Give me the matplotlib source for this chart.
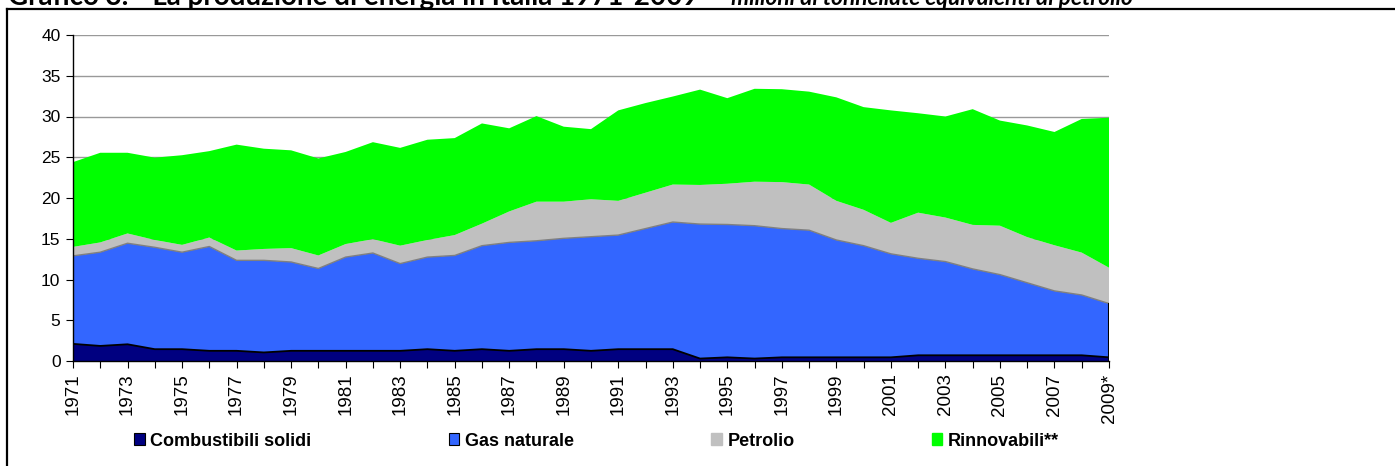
import matplotlib
matplotlib.use("Agg")
import matplotlib.pyplot as plt
from matplotlib.lines import Line2D
from matplotlib.patches import Patch
import numpy as np

plt.rcParams['font.family'] = ['Liberation Sans', 'DejaVu Sans']

years = list(range(1971, 2010))
year_labels = [str(y) if (y - 1971) % 2 == 0 else '' for y in years]
year_labels[-1] = '2009*'

# milioni di tep
solidi = [2.1, 1.85, 2.05, 1.45, 1.45, 1.25, 1.25, 1.05, 1.25, 1.25,
          1.25, 1.25, 1.25, 1.45, 1.25, 1.45, 1.25, 1.45, 1.45, 1.25,
          1.45, 1.45, 1.45, 0.3, 0.45, 0.3, 0.45, 0.45, 0.45, 0.45,
          0.45, 0.7, 0.7, 0.7, 0.7, 0.7, 0.7, 0.7, 0.45]
gas = [10.8, 11.5, 12.4, 12.5, 11.9, 12.8, 11.1, 11.3, 10.9, 10.1,
       11.5, 12.0, 10.7, 11.3, 11.7, 12.7, 13.3, 13.3, 13.6, 14.0,
       14.0, 14.8, 15.6, 16.5, 16.3, 16.3, 15.8, 15.6, 14.4, 13.7,
       12.7, 11.9, 11.5, 10.6, 9.9, 8.9, 7.9, 7.4, 6.6]
petrolio = [1.1, 1.2, 1.2, 0.9, 0.9, 1.1, 1.2, 1.4, 1.7, 1.6,
            1.6, 1.7, 2.2, 2.1, 2.5, 2.7, 3.8, 4.8, 4.5, 4.6,
            4.2, 4.4, 4.6, 4.8, 5.0, 5.4, 5.7, 5.6, 4.8, 4.4,
            3.8, 5.6, 5.4, 5.4, 6.0, 5.6, 5.6, 5.2, 4.4]
rinnovabili = [10.4, 11.0, 9.9, 10.1, 11.0, 10.6, 13.0, 12.3, 12.0, 11.9,
               11.3, 11.9, 12.0, 12.3, 11.9, 12.3, 10.2, 10.5, 9.2, 8.6,
               11.1, 11.0, 10.8, 11.7, 10.5, 11.4, 11.4, 11.4, 12.7, 12.6,
               13.8, 12.2, 12.4, 14.2, 12.9, 13.7, 13.9, 16.4, 18.4]

names = ['Combustibili solidi', 'Gas naturale', 'Petrolio', 'Rinnovabili**']
colors = ['#000080', '#3366FF', '#C0C0C0', '#00FF00']

fig = plt.figure(figsize=(13.95, 4.66), dpi=100)
ax = fig.add_axes([73 / 1395, 1 - 361 / 466, (1109 - 73) / 1395, 326 / 466])

ax.stackplot(years, solidi, gas, petrolio, rinnovabili, colors=colors, lw=0)

# bordi tra le serie
s1 = np.array(solidi)
s2 = s1 + np.array(gas)
ax.plot(years, s1, color='black', lw=1.3)
ax.plot(years, s2, color='#808080', lw=1.0)
ax.plot([years[-1], years[-1]], [0, s2[-1]], color='black', lw=1.5)

ax.set_xlim(1971, 2009)
ax.set_ylim(0, 40)
ax.set_yticks(range(0, 41, 5))
ax.set_xticks(years)
ax.set_xticklabels(year_labels, rotation=90, fontsize=13.5)
ax.tick_params(axis='y', labelsize=12.5, length=5, direction='out', pad=4)
ax.tick_params(axis='x', length=5, direction='out', pad=4)
ax.yaxis.grid(True, color='#999999', lw=1)
ax.set_axisbelow(True)
for side in ['top', 'right']:
    ax.spines[side].set_visible(False)
ax.spines['left'].set_linewidth(1)
ax.spines['bottom'].set_linewidth(1)

handles = [Patch(facecolor=colors[0], edgecolor='black', lw=0.8),
           Patch(facecolor=colors[1], edgecolor='black', lw=0.8),
           Patch(facecolor=colors[2], edgecolor=colors[2]),
           Patch(facecolor=colors[3], edgecolor=colors[3])]
fig.legend(handles, names, loc='center left', bbox_to_anchor=(134 / 1395, 1 - 441 / 466),
           ncol=4, frameon=False, borderpad=0, borderaxespad=0,
           handlelength=0.6, handleheight=0.6, handletextpad=0.3, columnspacing=7.6,
           prop={'weight': 'bold', 'size': 13})

# cornice
fig.add_artist(Line2D([7 / 1395, 1], [1 - 9 / 466, 1 - 9 / 466], transform=fig.transFigure,
                      color='black', lw=1.6))
fig.add_artist(Line2D([7 / 1395, 7 / 1395], [0, 1 - 9 / 466], transform=fig.transFigure,
                      color='black', lw=1.6))

# titolo (tagliato in alto come nell'originale)
fig.text(8 / 1395, 1 - 5 / 466, 'Grafico 3. - La produzione di energia in Italia 1971-2009',
         family='Lato', weight='bold', fontsize=20, va='baseline', ha='left')
fig.text(713 / 1395, 1 - 5 / 466, '\u2013 milioni di tonnellate equivalenti di petrolio',
         family='Lato', weight='bold', style='italic', fontsize=16.3, va='baseline', ha='left')

fig.savefig('out.png', dpi=100)
